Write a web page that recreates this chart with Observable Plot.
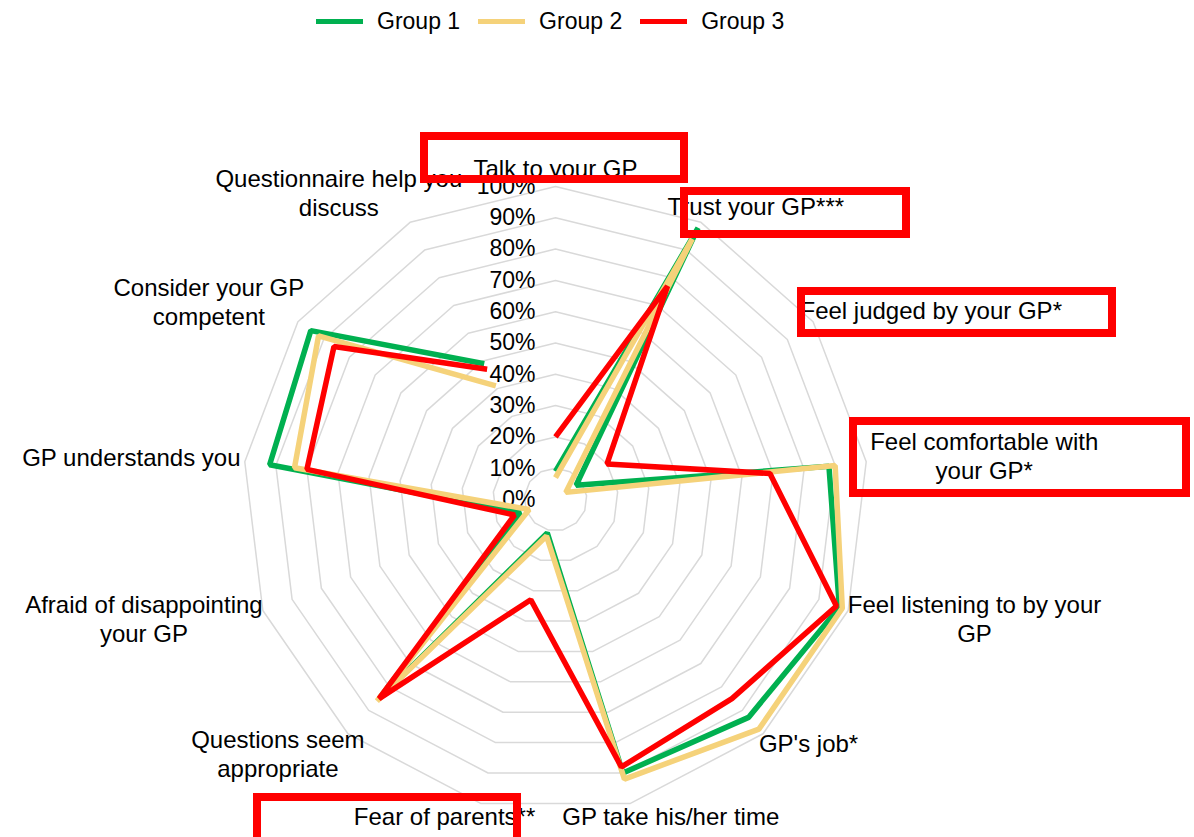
<!DOCTYPE html>
<html><head><meta charset="utf-8">
<script src="https://cdn.jsdelivr.net/npm/d3@7"></script>
<script src="https://cdn.jsdelivr.net/npm/@observablehq/plot@0.6"></script>
<style>
body{margin:0;background:#fff;font-family:"Liberation Sans",Arial,sans-serif;}
#wrap{position:relative;width:1194px;height:837px;overflow:hidden;background:#fff}
#legend{height:42px;display:flex;align-items:center;padding-left:316px;font-size:23px;color:#000}
.item{display:flex;align-items:center;margin-right:18px}
.sw{width:47px;height:5px;margin-right:14px}
.box{position:absolute;border:8px solid #ff0000;box-sizing:border-box}
</style></head>
<body><div id="wrap"><div id="legend"></div><div id="chart"></div></div>
<script>
const categories = [
  "Talk to your GP",
  "Trust your GP***",
  "Feel judged by your GP*",
  "Feel comfortable with\nyour GP*",
  "Feel listening to by your\nGP",
  "GP's job*",
  "GP take his/her time",
  "Fear of parents**",
  "Questions seem\nappropriate",
  "Afraid of disappointing\nyour GP",
  "GP understands you",
  "Consider your GP\ncompetent",
  "Questionnaire help you\ndiscuss"
];
const group1 = [9, 98, 8, 88, 97, 93, 90, 11, 85, 12, 92, 95, 49];
const group2 = [7, 94, 4, 90, 98, 98, 92, 12, 86, 9, 84, 92, 41];
const group3 = [20, 77, 20, 69, 96, 85, 88, 33, 85, 14, 80, 86, 47];
const tickValues = [0, 10, 20, 30, 40, 50, 60, 70, 80, 90, 100];
const tickLabels = ["0%", "10%", "20%", "30%", "40%", "50%", "60%", "70%", "80%", "90%", "100%"];
const seriesNames = ["Group 1", "Group 2", "Group 3"];
const seriesColors = ["#00b050", "#f5d27a", "#ff0000"];

// legend
const leg = document.getElementById("legend");
seriesNames.forEach((s, i) => {
  const it = document.createElement("div"); it.className = "item";
  const sw = document.createElement("span"); sw.className = "sw"; sw.style.background = seriesColors[i];
  const tx = document.createElement("span"); tx.textContent = s;
  it.appendChild(sw); it.appendChild(tx); leg.appendChild(it);
});

const W = 1194, H = 795, cx = 555, cy = 457, R = 313;
const n = categories.length;
const ang = i => 2 * Math.PI * i / n;
const px = (i, v) => v * Math.sin(ang(i));
const py = (i, v) => v * Math.cos(ang(i));

// rings
const rings = [];
tickValues.filter(t => t > 0).forEach(t => {
  for (let i = 0; i <= n; i++) rings.push({level: t, x: px(i % n, t / 100), y: py(i % n, t / 100)});
});

// series rows
const allSeries = [group1, group2, group3];
const rows = [];
allSeries.forEach((g, si) => g.forEach((v, i) => rows.push({series: seriesNames[si], x: px(i, v / 100), y: py(i, v / 100)})));

// labels: text box placed just outside the end of its axis
const ctx = document.createElement("canvas").getContext("2d");
const labelFont = 24, lineH = 29;
ctx.font = `${labelFont}px "Liberation Sans", Arial, sans-serif`;
const labels = categories.map((c, i) => {
  const lines = c.split("\n");
  const w = Math.max(...lines.map(l => ctx.measureText(l).width));
  const h = lineH * lines.length - 4;
  const s = Math.sin(ang(i)), co = Math.cos(ang(i));
  const r = 1.01;
  const sgn = Math.abs(s) < 1e-6 ? 0 : Math.sign(s);
  return {text: c, x: s * r + (s * w / 2 + sgn * 14 * Math.abs(co)) / R, y: co * r + co * h / 2 / R};
});

const ticks = tickValues.map((t, k) => ({v: t / 100, label: tickLabels[k]}));

const chart = Plot.plot({
  width: W, height: H, margin: 0,
  x: {domain: [-cx / R, (W - cx) / R], axis: null},
  y: {domain: [-(H - cy) / R, cy / R], axis: null},
  style: {fontFamily: '"Liberation Sans", Arial, sans-serif', background: "transparent"},
  marks: [
    Plot.line(rings, {x: "x", y: "y", z: "level", stroke: "#d9d9d9", strokeWidth: 1.5, curve: "linear"}),
    Plot.text(ticks, {x: 0, y: "v", text: "label", textAnchor: "end", dx: -20, fontSize: 23, fill: "#000"}),
    Plot.line(rows, {x: "x", y: "y", z: "series", stroke: d => seriesColors[seriesNames.indexOf(d.series)], strokeWidth: 5.5, strokeLinejoin: "miter", strokeLinecap: "butt", curve: "linear"}),
    Plot.text(labels, {x: "x", y: "y", text: "text", textAnchor: "middle", lineAnchor: "middle", dy: -3, lineHeight: lineH / labelFont, fontSize: labelFont, fill: "#000"})
  ]
});
document.getElementById("chart").appendChild(chart);

// highlight boxes (annotation overlay)
const boxes = [
  {l: 420, t: 132, w: 268, h: 51},
  {l: 680, t: 187, w: 230, h: 51},
  {l: 797, t: 287, w: 319, h: 50},
  {l: 849, t: 417, w: 341, h: 80},
  {l: 253, t: 793, w: 268, h: 60}
];
const wrap = document.getElementById("wrap");
boxes.forEach(b => {
  const d = document.createElement("div"); d.className = "box";
  Object.assign(d.style, {left: b.l + "px", top: b.t + "px", width: b.w + "px", height: b.h + "px"});
  wrap.appendChild(d);
});
</script>
</body></html>
